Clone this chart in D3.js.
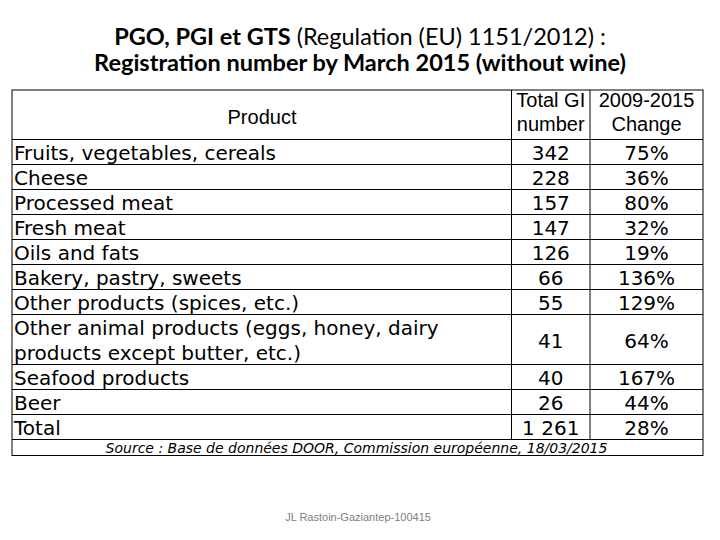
<!DOCTYPE html>
<html><head><meta charset="utf-8">
<script src="https://cdn.jsdelivr.net/npm/d3@7"></script>
<style>body{margin:0;background:#fff}</style>
</head><body>
<svg id="c" width="720" height="540"></svg>
<script>
const products = [
  ["Fruits, vegetables, cereals"],
  ["Cheese"],
  ["Processed meat"],
  ["Fresh meat"],
  ["Oils and fats"],
  ["Bakery, pastry, sweets"],
  ["Other products (spices, etc.)"],
  ["Other animal products (eggs, honey, dairy", "products except butter, etc.)"],
  ["Seafood products"],
  ["Beer"],
  ["Total"]
];
const totals = ["342", "228", "157", "147", "126", "66", "55", "41", "40", "26", "1 261"];
const changes = ["75%", "36%", "80%", "32%", "19%", "136%", "129%", "64%", "167%", "44%", "28%"];
const headers = [["Product"], ["Total GI", "number"], ["2009-2015", "Change"]];
const source = "Source : Base de données DOOR, Commission européenne, 18/03/2015";
const footer = "JL Rastoin-Gaziantep-100415";

const svg = d3.select("#c");
const X0 = 12, X1 = 511.5, X2 = 590, X3 = 703;
const headTop = 90, bodyTop = 139.5, bodyBottom = 439.5, srcBottom = 455.5;

// Title
const tfont = "Lato, 'Open Sans', sans-serif";
const title = svg.append("text").attr("x", 360).attr("y", 45).attr("text-anchor", "middle")
  .style("font-family", tfont).style("font-size", "23.5px");
title.append("tspan").attr("font-weight", "bold").text("PGO, PGI et GTS");
title.append("tspan").text(" (Regulation (EU) 1151/2012) :");
svg.append("text").attr("x", 360).attr("y", 71).attr("text-anchor", "middle")
  .style("font-family", tfont).style("font-size", "23.5px").attr("font-weight", "bold")
  .text("Registration number by March 2015 (without wine)");

// Row scale in line units
const units = products.map(p => p.length);
const cum = [0]; units.forEach(u => cum.push(cum[cum.length - 1] + u));
const y = d3.scaleLinear().domain([0, cum[cum.length - 1]]).range([bodyTop, bodyBottom]);

const g = svg.append("g");
// header
const hx = [262, (X1 + X2) / 2, (X2 + X3) / 2];
const hmid = (headTop + bodyTop) / 2;
headers.forEach((h, i) => {
  const t = g.append("text").attr("text-anchor", "middle")
    .style("font-family", "'Liberation Sans', Arial, sans-serif").style("font-size", "20px").attr("fill", "#000");
  h.forEach((line, j) => {
    const yy = h.length === 1 ? hmid + 9 : hmid + 4 + (j - 0.5) * 24;
    t.append("tspan").attr("x", hx[i]).attr("y", yy).text(line);
  });
});

const fam = "'DejaVu Sans', Verdana, sans-serif";
products.forEach((p, i) => {
  const top = y(cum[i]), bot = y(cum[i + 1]), mid = (top + bot) / 2;
  const t = g.append("text").style("font-family", fam).style("font-size", "20px");
  p.forEach((line, j) => {
    t.append("tspan").attr("x", X0 + 2).attr("y", mid + 8 + (j - (p.length - 1) / 2) * 25).text(line);
  });
  g.append("text").attr("x", (X1 + X2) / 2).attr("y", mid + 8).attr("text-anchor", "middle")
    .style("font-family", fam).style("font-size", "20px").text(totals[i]);
  g.append("text").attr("x", (X2 + X3) / 2).attr("y", mid + 8).attr("text-anchor", "middle")
    .style("font-family", fam).style("font-size", "20px").text(changes[i]);
});

// source
g.append("text").attr("x", 356.5).attr("y", bodyBottom + 13).attr("text-anchor", "middle")
  .style("font-family", fam).style("font-size", "14px").style("font-style", "italic").text(source);

// grid lines
const lines = g.append("g").attr("stroke", "#000").attr("stroke-width", 1).attr("fill", "none");
lines.append("rect").attr("x", X0).attr("y", headTop).attr("width", X3 - X0).attr("height", srcBottom - headTop);
cum.forEach(c => {
  lines.append("line").attr("x1", X0).attr("x2", X3).attr("y1", y(c)).attr("y2", y(c));
});
[X1, X2].forEach(x => lines.append("line").attr("x1", x).attr("x2", x).attr("y1", headTop).attr("y2", bodyBottom));

// footer
svg.append("text").attr("x", 358).attr("y", 521).attr("text-anchor", "middle")
  .style("font-family", "'Liberation Sans', Arial, sans-serif").style("font-size", "11px").attr("fill", "#808080")
  .text(footer);
</script>
</body></html>
